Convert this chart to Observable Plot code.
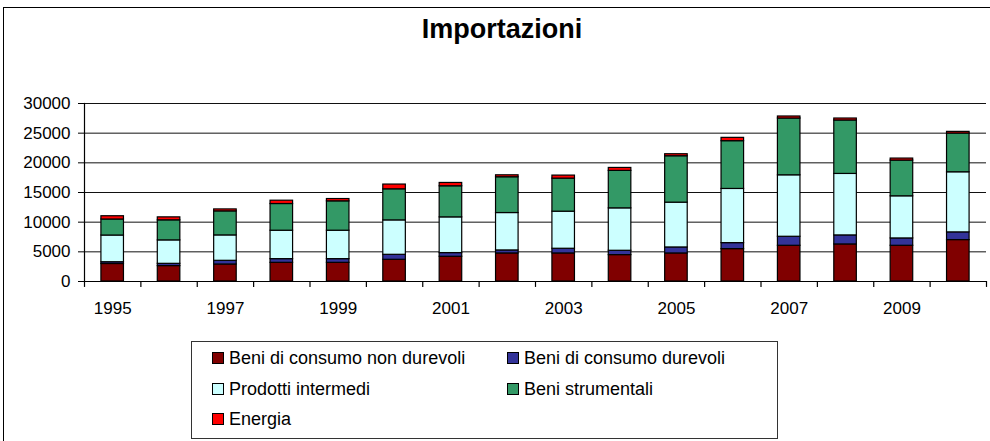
<!DOCTYPE html>
<html>
<head>
<meta charset="utf-8">
<script src="https://cdn.jsdelivr.net/npm/d3@7"></script>
<script src="https://cdn.jsdelivr.net/npm/@observablehq/plot@0.6"></script>
<style>
  html, body { margin: 0; padding: 0; background: #fff; }
  #wrap { position: relative; width: 990px; height: 441px; overflow: hidden; font-family: 'Liberation Sans', Arial, sans-serif; color: #000; }
  #frame { position: absolute; left: 3px; top: 7px; width: 1100px; height: 600px; border-left: 1.5px solid #000; border-top: 1.5px solid #000; box-sizing: border-box; }
  #title { position: absolute; left: 0; width: 1004px; top: 14px; text-align: center; font-size: 27px; font-weight: bold; }
  #chart { position: absolute; left: 0; top: 0; }
  #legend { position: absolute; left: 191px; top: 341px; width: 587px; height: 98px; border: 1px solid #333; box-sizing: border-box; font-size: 18px; }
  .item { position: absolute; white-space: nowrap; line-height: 20px; }
  .sw { display: inline-block; width: 10px; height: 10px; border: 1px solid #000; margin-right: 5px; vertical-align: 0px; }
</style>
</head>
<body>
<div id="wrap">
  <div id="frame"></div>
  <div id="chart"></div>
  <div id="title">Importazioni</div>
  <div id="legend"></div>
</div>
<script>
const years = [1995, 1996, 1997, 1998, 1999, 2000, 2001, 2002, 2003, 2004, 2005, 2006, 2007, 2008, 2009, 2010];
const labelYears = [1995, 1997, 1999, 2001, 2003, 2005, 2007, 2009];
const yTicks = [0, 5000, 10000, 15000, 20000, 25000, 30000];

const seriesNames = ["Beni di consumo non durevoli", "Beni di consumo durevoli", "Prodotti intermedi", "Beni strumentali", "Energia"];
const seriesColors = ["#800000", "#333399", "#CCFFFF", "#339966", "#FF0000"];

const nonDurevoli = [2950, 2600, 2870, 3150, 3150, 3660, 4170, 4730, 4730, 4450, 4730, 5460, 6020, 6250, 6020, 6980];
const durevoli    = [300, 380, 620, 620, 620, 840, 620, 510, 790, 730, 1010, 1010, 1520, 1520, 1240, 1300];
const intermedi   = [4500, 3950, 4280, 4790, 4790, 5800, 6020, 6300, 6250, 7150, 7550, 9130, 10360, 10360, 7100, 10130];
const strumentali = [2700, 3380, 4050, 4500, 4950, 5240, 5240, 6030, 5570, 6310, 7820, 8050, 9570, 9010, 6020, 6530];
const energia     = [550, 500, 330, 560, 390, 800, 560, 330, 510, 500, 340, 560, 340, 330, 340, 280];

const seriesValues = [nonDurevoli, durevoli, intermedi, strumentali, energia];

const data = [];
seriesNames.forEach((s, si) => {
  years.forEach((yr, i) => data.push({year: yr, series: s, value: seriesValues[si][i]}));
});

const W = 990, H = 330, mL = 84, mR = 4, mT = 103, mB = 49;
const step = (W - mL - mR) / years.length;

const chart = Plot.plot({
  width: W, height: H,
  marginLeft: mL, marginRight: mR, marginTop: mT, marginBottom: mB,
  style: {fontFamily: "'Liberation Sans', Arial, sans-serif", fontSize: "17px", color: "#000", background: "transparent", overflow: "visible"},
  x: {domain: years, paddingInner: 0.6, paddingOuter: 0.3, round: false, axis: null},
  y: {domain: [0, 30000], axis: null},
  color: {domain: seriesNames, range: seriesColors},
  marks: [
    Plot.ruleY(yTicks.filter(d => d > 0), {stroke: "#111", strokeWidth: 1}),
    Plot.axisY({ticks: yTicks, tickSize: 6, tickPadding: 8, tickFormat: d => String(d), label: null, stroke: "#000"}),
    Plot.axisX({ticks: labelYears, tickSize: 0, tickPadding: 20, tickFormat: d => String(d), label: null}),
    Plot.barY(data, Plot.stackY({x: "year", y: "value", fill: "series", order: null, stroke: "#000", strokeWidth: 1.2})),
    Plot.ruleY([0], {stroke: "#000", strokeWidth: 1.2}),
    Plot.frame({anchor: "left", stroke: "#000", strokeWidth: 1.2}),
    Plot.ruleX(years, {x: d => d, y1: 0, y2: -1000, dx: -step / 2, stroke: "#000", strokeWidth: 1.2}),
    Plot.ruleX(years.slice(-1), {x: d => d, y1: 0, y2: -1000, dx: step / 2, stroke: "#000", strokeWidth: 1.2})
  ]
});
document.getElementById("chart").appendChild(chart);

const legend = document.getElementById("legend");
const pos = [[20, 6], [315, 6], [20, 37], [315, 37], [20, 67]];
seriesNames.forEach((s, i) => {
  const d = document.createElement("div");
  d.className = "item";
  d.style.left = pos[i][0] + "px";
  d.style.top = pos[i][1] + "px";
  d.innerHTML = `<span class="sw" style="background:${seriesColors[i]}"></span>${s}`;
  legend.appendChild(d);
});
</script>
</body>
</html>
